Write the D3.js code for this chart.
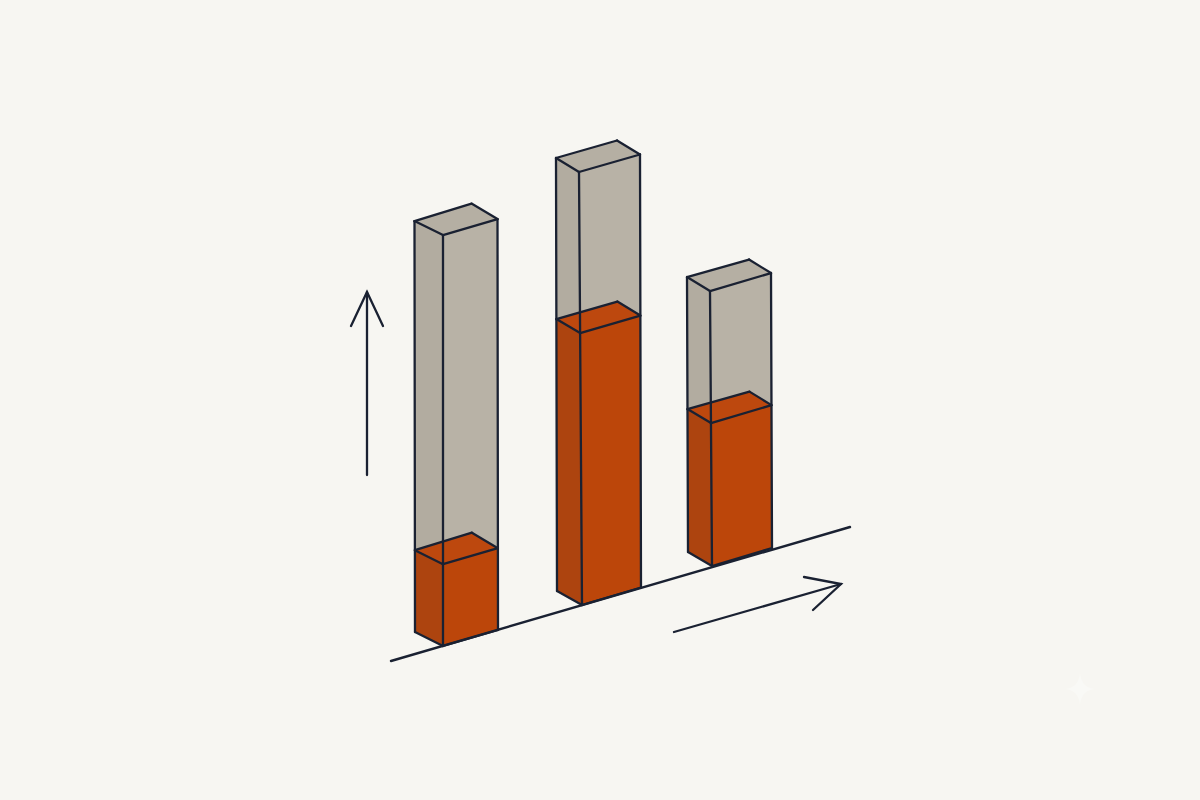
<!DOCTYPE html>
<html>
<head>
<meta charset="utf-8">
<script src="https://cdn.jsdelivr.net/npm/d3@7/dist/d3.min.js"></script>
<style>html,body{margin:0;padding:0;background:#f7f6f2;overflow:hidden}svg{display:block}</style>
</head>
<body>
<script>
const categories = ["A", "B", "C"];
const totalValues = [94.9, 100, 63.5];
const filledValues = [18.9, 62.8, 33.0];

const width = 1200, height = 800;
const ink = "#1a2132";
const svg = d3.select("body").append("svg").attr("width", width).attr("height", height);

// Background
svg.append("rect").attr("width", width).attr("height", height).attr("fill", "#f7f6f2");

// Scales: position along the sloped ground axis, height on the vertical axis
const groundX = d3.scaleOrdinal(categories, [443, 582, 712]);
const groundY = d3.scaleOrdinal(categories, [646, 605, 566]);
const rise = d3.scaleLinear([0, 100], [0, 433]);
const leftDx = d3.scaleOrdinal(categories, [-28, -25, -24]);
const rightDx = d3.scaleOrdinal(categories, [55, 59, 60]);
const sideDy = d3.scaleOrdinal(categories, [-16, -17.5, -18]);
const frontLean = d3.scaleOrdinal(categories, [0, 3, 2]);
const sideLean = d3.scaleOrdinal(categories, [0.5, 1, 1]);
const depthDy = -14, backDy = -31.5, backDx = 2;

const line = d3.line();
const closed = pts => line(pts) + "Z";

function corners(cat, value, maxValue) {
  const t = value / maxValue;
  const x0 = groundX(cat), y = groundY(cat) - rise(value);
  const side = sideLean(cat) * t;
  const leftX = x0 + leftDx(cat) - side, rightX = x0 + rightDx(cat) - side;
  return {
    front: [x0 - frontLean(cat) * t, y],
    left: [leftX, y + depthDy],
    right: [rightX, y + sideDy(cat)],
    back: [leftX + rightDx(cat) + backDx, y + backDy]
  };
}

function drawBlock(g, cat, lo, hi, maxValue, colors) {
  const a = corners(cat, lo, maxValue), b = corners(cat, hi, maxValue);
  g.append("path").attr("d", closed([a.left, a.front, b.front, b.left])).attr("fill", colors.left);
  g.append("path").attr("d", closed([a.front, a.right, b.right, b.front])).attr("fill", colors.front);
  g.append("path").attr("d", closed([b.left, b.front, b.right, b.back])).attr("fill", colors.top);
}

function outline(g, cat, value, maxValue) {
  const a = corners(cat, 0, maxValue), b = corners(cat, value, maxValue);
  const segs = [
    [a.left, b.left], [a.front, b.front], [a.right, b.right],
    [a.left, a.front], [a.front, a.right],
    [b.left, b.front], [b.front, b.right], [b.right, b.back], [b.back, b.left]
  ];
  segs.forEach(s => g.append("path").attr("d", line(s)));
}

const grey = { left: "#b2aca0", front: "#b8b2a6", top: "#b5afa3" };
const orange = { left: "#ad440f", front: "#bc460a", top: "#bd480e" };

const bars = svg.append("g");
categories.forEach((c, i) => {
  const total = totalValues[i], fill = filledValues[i];
  const g = bars.append("g");
  drawBlock(g, c, fill, total, total, grey);
  drawBlock(g, c, 0, fill, total, orange);
  const o = g.append("g").attr("fill", "none").attr("stroke", ink)
    .attr("stroke-width", 2.3).attr("stroke-linejoin", "round").attr("stroke-linecap", "round");
  outline(o, c, total, total);
  const f = corners(c, fill, total);
  [[f.left, f.front], [f.front, f.right], [f.right, f.back], [f.back, f.left]]
    .forEach(s => o.append("path").attr("d", line(s)));
});

// Ground axis
svg.append("path").attr("d", line([[391, 661], [850, 527]]))
  .attr("fill", "none").attr("stroke", ink).attr("stroke-width", 2.4).attr("stroke-linecap", "round");

// Direction arrows
const arrows = svg.append("g").attr("fill", "none").attr("stroke", ink)
  .attr("stroke-width", 2.3).attr("stroke-linecap", "round").attr("stroke-linejoin", "miter");
arrows.append("path").attr("d", line([[367, 475], [367, 292]]));
arrows.append("path").attr("d", line([[351, 326], [367, 292], [383, 326]]));
arrows.append("path").attr("d", line([[674, 632], [841, 584]]));
arrows.append("path").attr("d", line([[804, 577], [841, 584], [813, 610]]));

// Faint sparkle mark, lower right
svg.append("path")
  .attr("d", "M1080,674C1082,684 1085,687 1094,689C1085,691 1082,694 1080,704C1078,694 1075,691 1066,689C1075,687 1078,684 1080,674Z")
  .attr("fill", "#f9f9f6");
</script>
</body>
</html>
